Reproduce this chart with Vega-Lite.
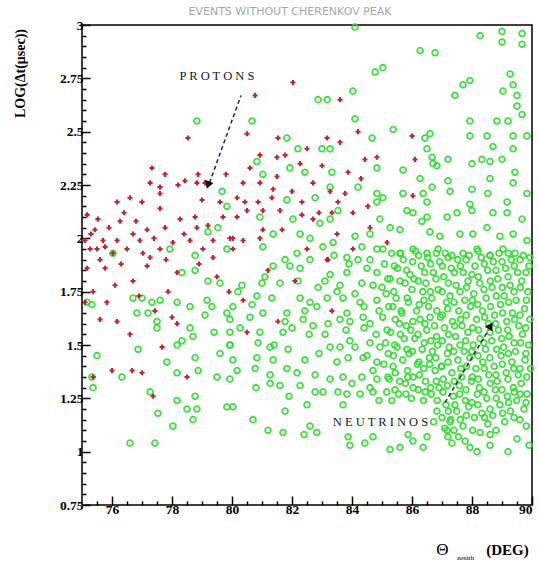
{
  "$schema": "https://vega.github.io/schema/vega-lite/v6.json",
  "autosize": {"type": "none"},
  "width": 450,
  "height": 480,
  "padding": {"left": 82, "top": 25, "right": 7, "bottom": 60},
  "background": "white",
  "title": {"text": "EVENTS WITHOUT CHERENKOV PEAK", "font": "DejaVu Sans", "fontSize": 11, "fontWeight": "normal", "color": "#a8a8a8", "offset": 1, "dx": -17},
  "config": {
    "view": {"stroke": "#000", "strokeWidth": 1.5},
    "axis": {"grid": false, "domain": false, "labelFont": "Liberation Serif", "labelFontWeight": "bold", "labelFontSize": 13.5, "labelColor": "#000", "tickColor": "#000", "tickWidth": 1.5, "titleFont": "Liberation Serif", "titleFontWeight": "bold", "titleFontSize": 13, "titleColor": "#000"}
  },
  "datasets": {
    "protons": [
      {"a":78.53,"b":2.47},{"a":77.33,"b":2.33},{"a":77.77,"b":2.30},{"a":77.27,"b":2.26},{"a":77.6,"b":2.24},{"a":77.6,"b":2.21},{"a":78.2,"b":2.25},{"a":78.43,"b":2.27},{"a":78.87,"b":2.30},{"a":78.83,"b":2.26},
      {"a":76.17,"b":2.17},{"a":76.6,"b":2.19},{"a":77.0,"b":2.17},{"a":77.6,"b":2.14},{"a":79.0,"b":2.18},{"a":79.6,"b":2.17},{"a":75.17,"b":2.11},{"a":75.53,"b":2.09},{"a":76.27,"b":2.08},{"a":76.7,"b":2.02},
      {"a":77.17,"b":2.04},{"a":77.77,"b":2.05},{"a":78.27,"b":2.09},{"a":78.77,"b":2.10},{"a":78.83,"b":2.05},{"a":75.43,"b":2.04},{"a":75.1,"b":1.99},{"a":75.7,"b":1.99},{"a":76.17,"b":1.99},{"a":76.93,"b":1.99},
      {"a":75.27,"b":1.95},{"a":75.5,"b":1.95},{"a":75.77,"b":1.96},{"a":76.5,"b":1.95},{"a":77.6,"b":1.95},{"a":77.27,"b":1.91},{"a":78.03,"b":1.98},{"a":78.6,"b":1.99},{"a":79.37,"b":1.99},{"a":79.93,"b":2.0},
      {"a":79.37,"b":1.91},{"a":79.03,"b":1.95},{"a":77.03,"b":1.93},{"a":76.03,"b":1.93},{"a":82.03,"b":2.73},{"a":80.77,"b":2.67},{"a":83.6,"b":2.65},{"a":80.5,"b":2.49},{"a":81.53,"b":2.47},{"a":83.17,"b":2.47},
      {"a":83.6,"b":2.45},{"a":80.93,"b":2.39},{"a":81.77,"b":2.39},{"a":81.5,"b":2.38},{"a":82.27,"b":2.35},{"a":83.0,"b":2.34},{"a":84.43,"b":2.37},{"a":84.83,"b":2.38},{"a":83.87,"b":2.31},{"a":80.93,"b":2.26},
      {"a":81.5,"b":2.29},{"a":82.7,"b":2.26},{"a":83.27,"b":2.22},{"a":83.77,"b":2.21},{"a":81.37,"b":2.23},{"a":82.0,"b":2.22},{"a":80.37,"b":2.26},{"a":80.17,"b":2.19},{"a":80.43,"b":2.17},{"a":80.87,"b":2.17},
      {"a":81.33,"b":2.19},{"a":82.33,"b":2.17},{"a":83.53,"b":2.17},{"a":84.53,"b":2.15},{"a":80.17,"b":2.10},{"a":80.5,"b":2.13},{"a":81.03,"b":2.13},{"a":81.6,"b":2.13},{"a":82.33,"b":2.11},{"a":83.33,"b":2.12},
      {"a":84.03,"b":2.12},{"a":81.67,"b":2.04},{"a":81.03,"b":2.04},{"a":82.7,"b":2.09},{"a":83.5,"b":2.02},{"a":80.03,"b":2.0},{"a":80.37,"b":1.99},{"a":80.93,"b":2.0},{"a":82.5,"b":1.95},{"a":83.17,"b":1.90},
      {"a":84.03,"b":1.95},{"a":80.03,"b":1.95},{"a":86.0,"b":2.48},{"a":86.1,"b":2.37},{"a":85.17,"b":1.98},{"a":86.03,"b":2.20},{"a":75.17,"b":1.86},{"a":75.77,"b":1.86},{"a":77.17,"b":1.87},{"a":78.17,"b":1.84},
      {"a":76.7,"b":1.80},{"a":76.1,"b":1.78},{"a":75.37,"b":1.75},{"a":75.1,"b":1.70},{"a":75.83,"b":1.70},{"a":77.87,"b":1.75},{"a":77.43,"b":1.66},{"a":78.0,"b":1.63},{"a":78.17,"b":1.60},{"a":76.17,"b":1.61},
      {"a":76.6,"b":1.55},{"a":77.67,"b":1.49},{"a":77.0,"b":1.37},{"a":76.0,"b":1.38},{"a":78.5,"b":1.35},{"a":76.67,"b":1.38},{"a":75.37,"b":1.35},{"a":77.37,"b":1.26},{"a":80.37,"b":1.71},{"a":81.53,"b":1.61},
      {"a":80.5,"b":1.56},{"a":83.33,"b":1.66},{"a":83.2,"b":1.90},{"a":75.3,"b":2.02},{"a":75.9,"b":2.05},{"a":76.4,"b":2.12},{"a":76.8,"b":2.08},{"a":77.4,"b":2.0},{"a":78.4,"b":2.02},{"a":79.2,"b":2.06},
      {"a":79.7,"b":2.1},{"a":75.6,"b":1.9},{"a":76.3,"b":1.88},{"a":77.8,"b":1.9},{"a":78.9,"b":1.88},{"a":79.5,"b":1.82},{"a":76.9,"b":1.73},{"a":75.6,"b":1.62},{"a":79.1,"b":2.26},{"a":79.8,"b":2.3},
      {"a":80.6,"b":2.33},{"a":82.9,"b":2.12},{"a":84.3,"b":2.28},{"a":84.6,"b":2.05},{"a":81.2,"b":1.85},{"a":82.1,"b":1.8},{"a":79.9,"b":1.75},{"a":84.2,"b":2.5},{"a":82.5,"b":2.42}
    ],
    "neutrinos": [
      {"a":88.27,"b":2.95},{"a":89.0,"b":2.97},{"a":89.67,"b":2.96},{"a":89.0,"b":2.92},{"a":89.67,"b":2.91},{"a":86.77,"b":2.87},{"a":85.03,"b":2.80},{"a":87.93,"b":2.74},{"a":87.7,"b":2.72},{"a":89.27,"b":2.77},
      {"a":89.37,"b":2.72},{"a":89.03,"b":2.69},{"a":89.5,"b":2.67},{"a":87.43,"b":2.67},{"a":89.5,"b":2.62},{"a":89.67,"b":2.58},{"a":89.2,"b":2.55},{"a":88.83,"b":2.55},{"a":87.93,"b":2.55},{"a":85.37,"b":2.51},
      {"a":86.6,"b":2.49},{"a":87.93,"b":2.48},{"a":88.5,"b":2.48},{"a":89.37,"b":2.48},{"a":89.83,"b":2.48},{"a":86.43,"b":2.47},{"a":88.7,"b":2.43},{"a":86.5,"b":2.42},{"a":89.37,"b":2.42},{"a":85.7,"b":2.32},
      {"a":86.7,"b":2.35},{"a":86.67,"b":2.38},{"a":86.83,"b":2.34},{"a":87.2,"b":2.37},{"a":88.0,"b":2.35},{"a":88.33,"b":2.37},{"a":88.6,"b":2.36},{"a":89.0,"b":2.37},{"a":89.43,"b":2.31},{"a":86.27,"b":2.28},
      {"a":87.2,"b":2.27},{"a":88.6,"b":2.28},{"a":89.37,"b":2.26},{"a":89.83,"b":2.21},{"a":86.67,"b":2.24},{"a":86.37,"b":2.21},{"a":85.7,"b":2.21},{"a":85.03,"b":2.19},{"a":87.27,"b":2.22},{"a":88.0,"b":2.23},
      {"a":88.53,"b":2.21},{"a":89.17,"b":2.17},{"a":86.5,"b":2.17},{"a":87.93,"b":2.16},{"a":85.83,"b":2.13},{"a":86.03,"b":2.12},{"a":86.33,"b":2.08},{"a":86.5,"b":2.10},{"a":87.17,"b":2.10},{"a":87.5,"b":2.12},
      {"a":88.0,"b":2.13},{"a":88.7,"b":2.12},{"a":89.17,"b":2.12},{"a":89.67,"b":2.09},{"a":85.27,"b":2.05},{"a":85.6,"b":2.04},{"a":86.6,"b":2.03},{"a":86.93,"b":2.01},{"a":87.6,"b":2.02},{"a":88.03,"b":2.02},
      {"a":88.5,"b":2.05},{"a":88.93,"b":2.01},{"a":89.37,"b":2.02},{"a":89.83,"b":1.99},{"a":85.03,"b":1.95},{"a":85.6,"b":1.93},{"a":86.03,"b":1.95},{"a":86.5,"b":1.93},{"a":86.87,"b":1.95},{"a":87.33,"b":1.92},
      {"a":87.7,"b":1.93},{"a":88.17,"b":1.95},{"a":88.6,"b":1.92},{"a":89.03,"b":1.95},{"a":89.43,"b":1.93},{"a":89.93,"b":1.91},{"a":84.1,"b":2.99},{"a":86.27,"b":2.88},
      {"a":84.77,"b":2.78},{"a":84.03,"b":2.69},{"a":83.17,"b":2.65},{"a":82.87,"b":2.65},{"a":84.1,"b":2.56},{"a":80.67,"b":2.55},{"a":84.67,"b":2.47},{"a":81.83,"b":2.47},{"a":82.2,"b":2.42},{"a":83.0,"b":2.42},
      {"a":83.27,"b":2.42},{"a":80.83,"b":2.36},{"a":81.03,"b":2.30},{"a":81.93,"b":2.33},{"a":82.43,"b":2.31},{"a":83.33,"b":2.31},{"a":84.83,"b":2.33},{"a":83.27,"b":2.24},{"a":84.2,"b":2.24},{"a":84.83,"b":2.21},
      {"a":81.83,"b":2.18},{"a":82.77,"b":2.19},{"a":84.83,"b":2.17},{"a":84.93,"b":2.09},{"a":83.53,"b":2.13},{"a":80.93,"b":2.10},{"a":82.03,"b":2.09},{"a":82.93,"b":2.07},{"a":83.27,"b":2.09},{"a":81.37,"b":2.02},
      {"a":82.27,"b":2.02},{"a":84.1,"b":2.01},{"a":84.6,"b":2.02},{"a":82.6,"b":2.0},{"a":83.03,"b":1.96},{"a":83.37,"b":1.98},{"a":84.33,"b":1.96},{"a":84.83,"b":1.95},{"a":81.03,"b":1.96},{"a":82.17,"b":1.93},
      {"a":81.77,"b":1.90},{"a":82.6,"b":1.90},{"a":83.83,"b":1.91},{"a":84.6,"b":1.90},
      {"a":78.83,"b":2.55},{"a":79.67,"b":2.22},{"a":79.83,"b":2.15},{"a":79.2,"b":2.03},{"a":79.53,"b":2.05},{"a":77.93,"b":1.95},{"a":78.77,"b":1.92},{"a":76.03,"b":1.93},{"a":79.83,"b":1.95},
      {"a":76.7,"b":1.72},{"a":77.0,"b":1.72},{"a":77.33,"b":1.70},{"a":77.6,"b":1.71},{"a":78.17,"b":1.70},{"a":78.6,"b":1.68},{"a":79.17,"b":1.71},{"a":79.33,"b":1.68},{"a":79.2,"b":1.80},{"a":78.77,"b":1.85},
      {"a":78.33,"b":1.84},{"a":79.6,"b":1.79},{"a":75.17,"b":1.70},{"a":75.33,"b":1.69},{"a":76.83,"b":1.65},{"a":77.2,"b":1.65},{"a":77.5,"b":1.61},{"a":77.5,"b":1.58},{"a":79.1,"b":1.64},{"a":79.83,"b":1.65},
      {"a":79.93,"b":1.62},{"a":78.6,"b":1.58},{"a":78.7,"b":1.54},{"a":78.33,"b":1.52},{"a":78.17,"b":1.50},{"a":76.87,"b":1.48},{"a":79.93,"b":1.56},{"a":79.93,"b":1.50},{"a":75.5,"b":1.45},{"a":77.83,"b":1.42},
      {"a":78.17,"b":1.37},{"a":78.77,"b":1.44},{"a":78.87,"b":1.38},{"a":76.33,"b":1.35},{"a":75.33,"b":1.35},{"a":75.37,"b":1.30},{"a":79.5,"b":1.35},{"a":79.93,"b":1.34},{"a":77.27,"b":1.28},{"a":78.17,"b":1.24},
      {"a":78.77,"b":1.26},{"a":78.5,"b":1.20},{"a":78.83,"b":1.20},{"a":79.83,"b":1.21},{"a":77.53,"b":1.18},{"a":78.7,"b":1.15},{"a":78.03,"b":1.12},{"a":76.6,"b":1.04},{"a":77.43,"b":1.04},
      {"a":81.37,"b":1.87},{"a":81.93,"b":1.87},{"a":82.27,"b":1.86},{"a":83.27,"b":1.83},{"a":83.83,"b":1.84},{"a":84.5,"b":1.86},{"a":84.83,"b":1.84},{"a":80.33,"b":1.78},{"a":81.0,"b":1.79},{"a":81.6,"b":1.79},
      {"a":82.2,"b":1.80},{"a":82.87,"b":1.77},{"a":83.6,"b":1.78},{"a":84.33,"b":1.79},{"a":85.0,"b":1.77},{"a":80.83,"b":1.73},{"a":81.33,"b":1.72},{"a":82.27,"b":1.72},{"a":83.17,"b":1.72},{"a":83.7,"b":1.72},
      {"a":84.27,"b":1.70},{"a":84.83,"b":1.71},{"a":80.03,"b":1.68},{"a":80.67,"b":1.69},{"a":81.03,"b":1.65},{"a":81.83,"b":1.65},{"a":82.43,"b":1.66},{"a":82.83,"b":1.68},{"a":83.83,"b":1.65},{"a":84.37,"b":1.63},
      {"a":81.77,"b":1.61},{"a":82.37,"b":1.62},{"a":82.7,"b":1.59},{"a":83.6,"b":1.62},{"a":83.93,"b":1.61},{"a":84.6,"b":1.60},{"a":80.27,"b":1.58},{"a":80.93,"b":1.56},{"a":81.7,"b":1.56},{"a":82.57,"b":1.55},
      {"a":83.1,"b":1.55},{"a":83.27,"b":1.49},{"a":83.6,"b":1.49},{"a":83.93,"b":1.52},{"a":84.6,"b":1.51},{"a":84.93,"b":1.49},{"a":79.93,"b":1.50},{"a":80.87,"b":1.51},{"a":81.27,"b":1.49},{"a":81.87,"b":1.48},
      {"a":80.83,"b":1.44},{"a":80.03,"b":1.43},{"a":81.37,"b":1.43},{"a":82.43,"b":1.43},{"a":83.87,"b":1.44},{"a":84.37,"b":1.44},{"a":84.83,"b":1.42},{"a":80.17,"b":1.38},{"a":80.77,"b":1.39},{"a":81.27,"b":1.36},
      {"a":81.83,"b":1.39},{"a":82.17,"b":1.37},{"a":82.77,"b":1.36},{"a":83.27,"b":1.34},{"a":83.7,"b":1.35},{"a":84.33,"b":1.35},{"a":84.83,"b":1.34},{"a":81.27,"b":1.32},{"a":81.6,"b":1.31},{"a":82.27,"b":1.31},
      {"a":82.77,"b":1.28},{"a":83.03,"b":1.28},{"a":83.53,"b":1.28},{"a":83.83,"b":1.27},{"a":84.27,"b":1.27},{"a":84.7,"b":1.28},{"a":80.03,"b":1.21},{"a":80.7,"b":1.15},{"a":81.77,"b":1.19},{"a":81.2,"b":1.10},
      {"a":81.7,"b":1.09},{"a":82.6,"b":1.12},{"a":82.4,"b":1.08},{"a":82.83,"b":1.09},{"a":83.87,"b":1.07},{"a":83.93,"b":1.03},{"a":84.43,"b":1.04},{"a":84.7,"b":1.07},
      {"a":83.1,"b":1.8},{"a":83.4,"b":1.92},{"a":83.5,"b":1.75},{"a":83.9,"b":1.88},{"a":84.1,"b":1.74},{"a":84.2,"b":1.9},{"a":84.4,"b":1.58},{"a":84.5,"b":1.45},{"a":84.7,"b":1.78},{"a":84.8,"b":1.55},
      {"a":84.9,"b":1.66},{"a":84.1,"b":1.49},{"a":83.8,"b":1.57},{"a":84.4,"b":1.68},{"a":83.5,"b":1.42},{"a":84.7,"b":1.38},{"a":84.9,"b":1.24},{"a":84.6,"b":1.3},{"a":83.7,"b":1.22},{"a":84.0,"b":1.32},
      {"a":83.2,"b":1.6},{"a":82.9,"b":1.46},{"a":82.6,"b":1.7},{"a":82.0,"b":1.58},{"a":81.4,"b":1.5},{"a":80.6,"b":1.63},{"a":80.2,"b":1.75},{"a":81.1,"b":1.82},{"a":79.6,"b":1.46},{"a":79.4,"b":1.56},
      {"a":80.8,"b":1.3},{"a":81.9,"b":1.26},{"a":82.5,"b":1.22},
      {"a":85.27,"b":1.01},{"a":85.6,"b":1.02},{"a":86.03,"b":1.05},{"a":86.37,"b":1.02},{"a":85.87,"b":1.08},{"a":86.5,"b":1.07},{"a":87.17,"b":1.10},{"a":87.33,"b":1.04},{"a":87.77,"b":1.05},{"a":88.17,"b":1.0},
      {"a":88.27,"b":1.09},{"a":88.6,"b":1.08},{"a":88.6,"b":1.03},{"a":87.93,"b":1.02},{"a":87.27,"b":1.14},{"a":89.5,"b":1.06},{"a":89.9,"b":1.03},{"a":89.2,"b":1.0},
      {"a":85.08,"b":1.88},{"a":85.14,"b":1.74},{"a":85.02,"b":1.63},{"a":85.12,"b":1.51},{"a":85.06,"b":1.41},{"a":85.16,"b":1.28},
      {"a":85.32,"b":1.93},{"a":85.27,"b":1.81},{"a":85.36,"b":1.68},{"a":85.29,"b":1.56},{"a":85.38,"b":1.45},{"a":85.24,"b":1.34},{"a":85.33,"b":1.24},
      {"a":85.52,"b":1.86},{"a":85.47,"b":1.72},{"a":85.58,"b":1.6},{"a":85.5,"b":1.49},{"a":85.44,"b":1.37},{"a":85.55,"b":1.27},
      {"a":85.71,"b":1.9},{"a":85.77,"b":1.79},{"a":85.66,"b":1.65},{"a":85.74,"b":1.53},{"a":85.69,"b":1.43},{"a":85.78,"b":1.32},
      {"a":85.93,"b":1.83},{"a":85.88,"b":1.7},{"a":85.96,"b":1.57},{"a":85.9,"b":1.46},{"a":85.86,"b":1.35},{"a":85.98,"b":1.25},
      {"a":86.12,"b":1.94},{"a":86.06,"b":1.81},{"a":86.15,"b":1.66},{"a":86.09,"b":1.53},{"a":86.18,"b":1.41},{"a":86.04,"b":1.3},
      {"a":86.31,"b":1.87},{"a":86.36,"b":1.75},{"a":86.27,"b":1.62},{"a":86.34,"b":1.48},{"a":86.25,"b":1.36},{"a":86.38,"b":1.24},
      {"a":86.52,"b":1.91},{"a":86.46,"b":1.79},{"a":86.55,"b":1.68},{"a":86.49,"b":1.57},{"a":86.58,"b":1.44},{"a":86.45,"b":1.33},
      {"a":86.71,"b":1.84},{"a":86.66,"b":1.72},{"a":86.75,"b":1.59},{"a":86.68,"b":1.47},{"a":86.77,"b":1.38},{"a":86.64,"b":1.27},{"a":86.72,"b":1.14},
      {"a":86.92,"b":1.89},{"a":86.87,"b":1.76},{"a":86.95,"b":1.63},{"a":86.85,"b":1.5},{"a":86.98,"b":1.4},{"a":86.9,"b":1.3},{"a":86.83,"b":1.19},
      {"a":87.11,"b":1.93},{"a":87.06,"b":1.82},{"a":87.15,"b":1.7},{"a":87.08,"b":1.58},{"a":87.18,"b":1.46},{"a":87.04,"b":1.34},{"a":87.13,"b":1.22},{"a":87.09,"b":1.11},
      {"a":87.31,"b":1.86},{"a":87.27,"b":1.73},{"a":87.35,"b":1.61},{"a":87.24,"b":1.49},{"a":87.33,"b":1.37},{"a":87.38,"b":1.26},{"a":87.29,"b":1.15},
      {"a":87.52,"b":1.9},{"a":87.47,"b":1.78},{"a":87.56,"b":1.66},{"a":87.45,"b":1.54},{"a":87.53,"b":1.43},{"a":87.58,"b":1.31},{"a":87.49,"b":1.19},{"a":87.55,"b":1.07},
      {"a":87.71,"b":1.84},{"a":87.76,"b":1.71},{"a":87.67,"b":1.59},{"a":87.74,"b":1.47},{"a":87.65,"b":1.35},{"a":87.78,"b":1.24},{"a":87.7,"b":1.12},
      {"a":87.91,"b":1.92},{"a":87.87,"b":1.8},{"a":87.95,"b":1.68},{"a":87.86,"b":1.56},{"a":87.93,"b":1.44},{"a":87.98,"b":1.33},{"a":87.89,"b":1.21},
      {"a":88.1,"b":1.87},{"a":88.06,"b":1.74},{"a":88.15,"b":1.62},{"a":88.04,"b":1.5},{"a":88.13,"b":1.39},{"a":88.18,"b":1.27},{"a":88.08,"b":1.16},
      {"a":88.31,"b":1.91},{"a":88.26,"b":1.79},{"a":88.35,"b":1.66},{"a":88.27,"b":1.53},{"a":88.36,"b":1.42},{"a":88.24,"b":1.3},{"a":88.33,"b":1.18},
      {"a":88.52,"b":1.85},{"a":88.47,"b":1.72},{"a":88.55,"b":1.6},{"a":88.45,"b":1.48},{"a":88.56,"b":1.36},{"a":88.49,"b":1.25},{"a":88.53,"b":1.13},
      {"a":88.71,"b":1.89},{"a":88.67,"b":1.77},{"a":88.75,"b":1.64},{"a":88.66,"b":1.52},{"a":88.74,"b":1.4},{"a":88.78,"b":1.29},{"a":88.69,"b":1.17},
      {"a":88.9,"b":1.93},{"a":88.86,"b":1.81},{"a":88.95,"b":1.69},{"a":88.88,"b":1.57},{"a":88.97,"b":1.45},{"a":88.84,"b":1.33},{"a":88.93,"b":1.22},
      {"a":89.12,"b":1.86},{"a":89.07,"b":1.73},{"a":89.16,"b":1.61},{"a":89.05,"b":1.49},{"a":89.14,"b":1.37},{"a":89.18,"b":1.26},{"a":89.09,"b":1.14},
      {"a":89.31,"b":1.9},{"a":89.27,"b":1.78},{"a":89.35,"b":1.65},{"a":89.24,"b":1.54},{"a":89.33,"b":1.42},{"a":89.38,"b":1.3},{"a":89.28,"b":1.19},
      {"a":89.52,"b":1.84},{"a":89.47,"b":1.71},{"a":89.56,"b":1.59},{"a":89.45,"b":1.47},{"a":89.54,"b":1.36},{"a":89.49,"b":1.24},
      {"a":89.71,"b":1.92},{"a":89.66,"b":1.8},{"a":89.75,"b":1.67},{"a":89.68,"b":1.55},{"a":89.77,"b":1.43},{"a":89.64,"b":1.32},{"a":89.73,"b":1.2},
      {"a":89.9,"b":1.87},{"a":89.86,"b":1.75},{"a":89.93,"b":1.62},{"a":89.88,"b":1.5},{"a":89.95,"b":1.39},{"a":89.84,"b":1.27},
      {"a":85.19,"b":1.81},{"a":85.22,"b":1.68},{"a":85.17,"b":1.57},{"a":85.21,"b":1.46},{"a":85.2,"b":1.35},
      {"a":85.41,"b":1.87},{"a":85.39,"b":1.75},{"a":85.44,"b":1.62},{"a":85.42,"b":1.5},{"a":85.37,"b":1.4},{"a":85.43,"b":1.29},
      {"a":85.62,"b":1.93},{"a":85.6,"b":1.8},{"a":85.64,"b":1.66},{"a":85.61,"b":1.55},{"a":85.59,"b":1.33},
      {"a":85.82,"b":1.85},{"a":85.84,"b":1.72},{"a":85.81,"b":1.59},{"a":85.83,"b":1.48},{"a":85.85,"b":1.38},{"a":85.8,"b":1.27},
      {"a":86.02,"b":1.89},{"a":86.0,"b":1.76},{"a":86.03,"b":1.61},{"a":86.01,"b":1.47},{"a":86.04,"b":1.35},
      {"a":86.22,"b":1.92},{"a":86.21,"b":1.8},{"a":86.24,"b":1.69},{"a":86.2,"b":1.55},{"a":86.23,"b":1.42},{"a":86.21,"b":1.29},
      {"a":86.42,"b":1.84},{"a":86.4,"b":1.71},{"a":86.43,"b":1.6},{"a":86.41,"b":1.51},{"a":86.39,"b":1.39},{"a":86.44,"b":1.28},
      {"a":86.62,"b":1.88},{"a":86.61,"b":1.75},{"a":86.6,"b":1.63},{"a":86.63,"b":1.52},{"a":86.59,"b":1.41},{"a":86.62,"b":1.3},
      {"a":86.81,"b":1.93},{"a":86.8,"b":1.81},{"a":86.83,"b":1.66},{"a":86.82,"b":1.54},{"a":86.79,"b":1.44},{"a":86.81,"b":1.33},{"a":86.84,"b":1.24},
      {"a":87.01,"b":1.87},{"a":87.0,"b":1.75},{"a":87.02,"b":1.64},{"a":87.01,"b":1.52},{"a":86.99,"b":1.4},{"a":87.03,"b":1.28},{"a":87.0,"b":1.16},
      {"a":87.2,"b":1.91},{"a":87.21,"b":1.79},{"a":87.19,"b":1.67},{"a":87.22,"b":1.55},{"a":87.2,"b":1.42},{"a":87.18,"b":1.31},{"a":87.21,"b":1.19},{"a":87.2,"b":1.07},
      {"a":87.41,"b":1.84},{"a":87.4,"b":1.7},{"a":87.42,"b":1.59},{"a":87.39,"b":1.47},{"a":87.41,"b":1.33},{"a":87.43,"b":1.22},{"a":87.4,"b":1.1},
      {"a":87.61,"b":1.87},{"a":87.6,"b":1.75},{"a":87.62,"b":1.62},{"a":87.6,"b":1.5},{"a":87.63,"b":1.39},{"a":87.59,"b":1.27},{"a":87.61,"b":1.15},
      {"a":87.8,"b":1.9},{"a":87.82,"b":1.77},{"a":87.81,"b":1.64},{"a":87.79,"b":1.52},{"a":87.82,"b":1.4},{"a":87.8,"b":1.29},{"a":87.81,"b":1.17},
      {"a":88.0,"b":1.83},{"a":88.01,"b":1.71},{"a":88.02,"b":1.58},{"a":87.99,"b":1.47},{"a":88.01,"b":1.35},{"a":88.0,"b":1.23},{"a":88.02,"b":1.1},
      {"a":88.2,"b":1.94},{"a":88.21,"b":1.82},{"a":88.19,"b":1.69},{"a":88.22,"b":1.57},{"a":88.2,"b":1.45},{"a":88.21,"b":1.34},{"a":88.19,"b":1.22},
      {"a":88.41,"b":1.88},{"a":88.4,"b":1.76},{"a":88.42,"b":1.63},{"a":88.39,"b":1.51},{"a":88.41,"b":1.39},{"a":88.4,"b":1.28},{"a":88.42,"b":1.16},
      {"a":88.6,"b":1.92},{"a":88.61,"b":1.8},{"a":88.62,"b":1.68},{"a":88.6,"b":1.56},{"a":88.59,"b":1.44},{"a":88.61,"b":1.32},{"a":88.6,"b":1.2},
      {"a":88.8,"b":1.85},{"a":88.81,"b":1.73},{"a":88.79,"b":1.6},{"a":88.82,"b":1.48},{"a":88.8,"b":1.36},{"a":88.81,"b":1.25},{"a":88.8,"b":1.1},
      {"a":89.0,"b":1.89},{"a":89.01,"b":1.77},{"a":89.02,"b":1.65},{"a":88.99,"b":1.53},{"a":89.01,"b":1.41},{"a":89.0,"b":1.29},{"a":89.02,"b":1.18},
      {"a":89.21,"b":1.93},{"a":89.2,"b":1.82},{"a":89.22,"b":1.7},{"a":89.19,"b":1.57},{"a":89.21,"b":1.46},{"a":89.2,"b":1.34},{"a":89.22,"b":1.23},
      {"a":89.41,"b":1.87},{"a":89.4,"b":1.75},{"a":89.42,"b":1.62},{"a":89.4,"b":1.51},{"a":89.39,"b":1.39},{"a":89.41,"b":1.28},{"a":89.4,"b":1.16},
      {"a":89.6,"b":1.9},{"a":89.61,"b":1.77},{"a":89.6,"b":1.64},{"a":89.62,"b":1.51},{"a":89.6,"b":1.39},{"a":89.61,"b":1.27},{"a":89.6,"b":1.15},
      {"a":89.8,"b":1.84},{"a":89.81,"b":1.71},{"a":89.79,"b":1.58},{"a":89.8,"b":1.46},{"a":89.82,"b":1.35},{"a":89.8,"b":1.23},{"a":89.81,"b":1.12}
    ],
    "arrows": [
      {"a":80.3,"b":2.67,"g":"protons"},{"a":79.25,"b":2.26,"g":"protons"},
      {"a":87.1,"b":1.23,"g":"neutrinos"},{"a":88.55,"b":1.57,"g":"neutrinos"}
    ],
    "labels": [
      {"a":79.5,"b":2.76,"t":"P R O T O N S"},
      {"a":84.95,"b":1.14,"t":"N E U T R I N O S"}
    ]
  },
  "resolve": {"axis": {"x": "independent", "y": "independent"}},
  "layer": [
    {
      "data": {"name": "neutrinos"},
      "mark": {"type": "point", "shape": "circle", "filled": false, "stroke": "#30dc30", "strokeWidth": 1.8, "size": 34, "opacity": 0.9},
      "encoding": {
        "x": {"field": "a", "type": "quantitative", "scale": {"domain": [75, 90], "nice": false, "zero": false},
              "axis": {"orient": "bottom", "values": [75.5,76.5,77,77.5,78.5,79,79.5,80.5,81,81.5,82.5,83,83.5,84.5,85,85.5,86.5,87,87.5,88.5,89,89.5], "labels": false, "tickSize": -4, "title": "zenith", "titleFontSize": 7, "titleFontWeight": "normal", "titleX": 383, "titleY": 52, "titleAlign": "center", "titleBaseline": "middle"}},
        "y": {"field": "b", "type": "quantitative", "scale": {"domain": [0.75, 3], "nice": false, "zero": false},
              "axis": {"orient": "left", "values": [0.8,0.85,0.9,0.95,1.05,1.1,1.15,1.2,1.3,1.35,1.4,1.45,1.55,1.6,1.65,1.7,1.8,1.85,1.9,1.95,2.05,2.1,2.15,2.2,2.3,2.35,2.4,2.45,2.55,2.6,2.65,2.7,2.8,2.85,2.9,2.95], "labels": false, "tickSize": -4, "title": null}}
      }
    },
    {
      "data": {"name": "protons"},
      "mark": {"type": "point", "shape": "cross", "filled": true, "color": "#b81d2a", "size": 26, "opacity": 0.95},
      "encoding": {
        "x": {"field": "a", "type": "quantitative",
              "axis": {"orient": "bottom", "values": [76,78,80,82,84,86,88,90], "tickSize": -9, "labelPadding": 6, "title": "(DEG)", "titleFontSize": 15, "titleX": 425, "titleY": 44, "titleAlign": "center", "titleBaseline": "middle"}},
        "y": {"field": "b", "type": "quantitative",
              "axis": {"orient": "left", "values": [0.75,1,1.25,1.5,1.75,2,2.25,2.5,2.75,3], "labelExpr": "'' + datum.value", "tickSize": -8, "labelPadding": 7, "title": "LOG(Δt(μsec))", "titleFontSize": 14, "titleX": -62, "titleY": 48, "titleAlign": "center", "titleBaseline": "middle"}}
      }
    },
    {
      "data": {"name": "arrows"},
      "mark": {"type": "line", "strokeDash": [4, 3], "color": "#2b3048", "strokeWidth": 1.6},
      "encoding": {
        "x": {"field": "a", "type": "quantitative", "axis": null},
        "y": {"field": "b", "type": "quantitative", "axis": null},
        "detail": {"field": "g"}
      }
    },
    {
      "data": {"values": [{"a": 79.2, "b": 2.25}]},
      "mark": {"type": "point", "shape": "triangle-up", "filled": true, "color": "#111", "size": 80, "angle": 200, "opacity": 1},
      "encoding": {
        "x": {"field": "a", "type": "quantitative", "axis": null},
        "y": {"field": "b", "type": "quantitative", "axis": null}
      }
    },
    {
      "data": {"values": [{"a": 88.62, "b": 1.59}]},
      "mark": {"type": "point", "shape": "triangle-up", "filled": true, "color": "#111", "size": 80, "angle": 31, "opacity": 1},
      "encoding": {
        "x": {"field": "a", "type": "quantitative", "axis": null},
        "y": {"field": "b", "type": "quantitative", "axis": null}
      }
    },
    {
      "data": {"name": "labels"},
      "mark": {"type": "text", "font": "Liberation Serif", "fontSize": 12.5, "color": "#1a1a1a"},
      "encoding": {
        "x": {"field": "a", "type": "quantitative",
              "axis": {"orient": "bottom", "ticks": false, "labels": false, "title": "Θ", "titleFontSize": 17, "titleFontWeight": "normal", "titleX": 360, "titleY": 44, "titleAlign": "center", "titleBaseline": "middle"}},
        "y": {"field": "b", "type": "quantitative", "axis": null},
        "text": {"field": "t"}
      }
    }
  ]
}
